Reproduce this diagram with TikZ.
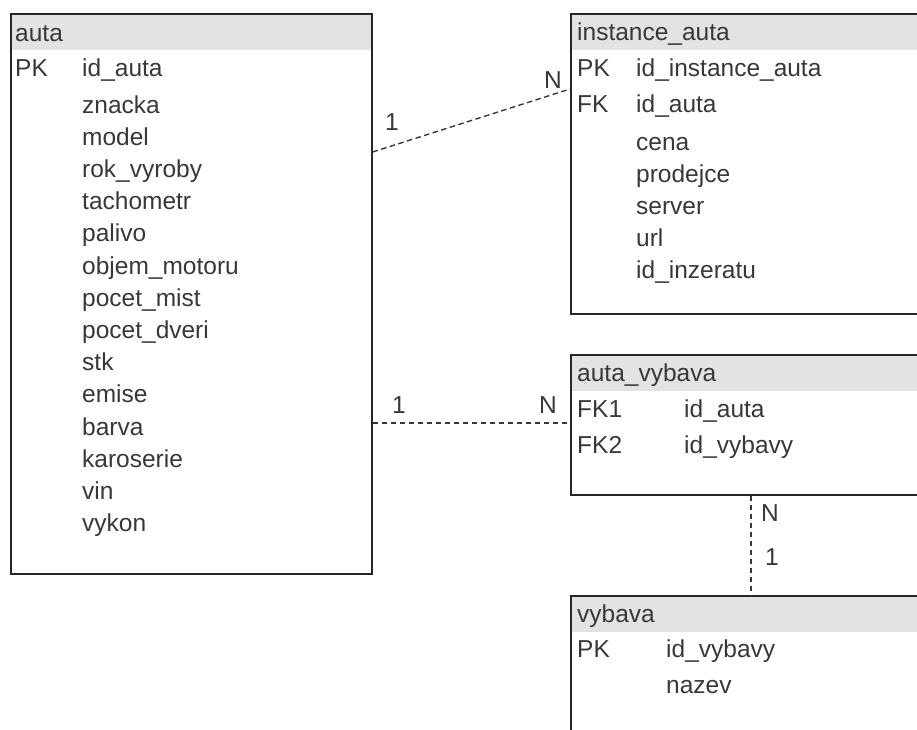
\documentclass[tikz,border=0pt]{standalone}
\usepackage{fontspec}
\setmainfont{Liberation Sans}
\usepackage{xcolor}
\usetikzlibrary{positioning}
\definecolor{headgray}{HTML}{E3E3E3}
\definecolor{inkgray}{HTML}{383838}

\begin{document}
\begin{tikzpicture}[x=1pt,y=-1pt,
  table/.style={rectangle,draw=black!85,line width=1.6pt,anchor=north west,inner sep=0pt},
  head/.style={rectangle,fill=headgray,anchor=north west,inner sep=0pt,minimum height=37pt},
  field/.style={anchor=base west,inner sep=0pt,text=inkgray,font=\fontsize{24.5}{28}\selectfont},
  card/.style={inner sep=0pt,text=inkgray,font=\fontsize{24.5}{28}\selectfont},
  rel/.style={line width=1.4pt,draw=inkgray,dash pattern=on 5.5pt off 3.5pt}
]
\useasboundingbox (0,0) rectangle (917,729);
\clip (0,0) rectangle (917,729);

% header bands
\node[head,minimum width=361pt] (autaH) at (10,13) {};
\node[head,minimum width=400pt] (instH) at (570,13) {};
\node[head,minimum width=400pt] (avbH)  at (570,354) {};
\node[head,minimum width=400pt] (vybH)  at (570,595) {};

% tables
\node[table,minimum width=361pt,minimum height=560pt] (auta) at (10,13) {};
\node[table,minimum width=400pt,minimum height=300pt] (inst) at (570,13) {};
\node[table,minimum width=400pt,minimum height=140pt] (avb)  at (570,354) {};
\node[table,minimum width=400pt,minimum height=200pt] (vyb)  at (570,595) {};

% auta
\node[field] (autaT)  at (15,41)    {auta};
\node[field] (autaK)  at (15,76)    {PK};
\node[field] (autaF0) at (82,76)    {id\_auta};
\node[field] (autaF1) at (82,113)   {znacka};
\node[field] (autaF2) at (82,145.2) {model};
\node[field] (autaF3) at (82,177.4) {rok\_vyroby};
\node[field] (autaF4) at (82,209.6) {tachometr};
\node[field] (autaF5) at (82,241.8) {palivo};
\node[field] (autaF6) at (82,274)   {objem\_motoru};
\node[field] (autaF7) at (82,306.2) {pocet\_mist};
\node[field] (autaF8) at (82,338.4) {pocet\_dveri};
\node[field] (autaF9) at (82,370.6) {stk};
\node[field] (autaFa) at (82,402.8) {emise};
\node[field] (autaFb) at (82,435)   {barva};
\node[field] (autaFc) at (82,467.2) {karoserie};
\node[field] (autaFd) at (82,499.4) {vin};
\node[field] (autaFe) at (82,531.6) {vykon};

% instance_auta
\node[field] (instT)  at (577,40)  {instance\_auta};
\node[field] (instK1) at (577,76)  {PK};
\node[field] (instK2) at (577,112) {FK};
\node[field] (instF0) at (636,76)  {id\_instance\_auta};
\node[field] (instF1) at (636,112) {id\_auta};
\node[field] (instF2) at (636,150) {cena};
\node[field] (instF3) at (636,182) {prodejce};
\node[field] (instF4) at (636,214) {server};
\node[field] (instF5) at (636,246) {url};
\node[field] (instF6) at (636,278) {id\_inzeratu};

% auta_vybava
\node[field] (avbT)  at (577,381) {auta\_vybava};
\node[field] (avbK1) at (577,417) {FK1};
\node[field] (avbK2) at (577,453) {FK2};
\node[field] (avbF1) at (684,417) {id\_auta};
\node[field] (avbF2) at (684,453) {id\_vybavy};

% vybava
\node[field] (vybT)  at (577,622) {vybava};
\node[field] (vybK)  at (577,657) {PK};
\node[field] (vybF1) at (666,657) {id\_vybavy};
\node[field] (vybF2) at (666,693) {nazev};

% relations
\draw[rel] ([yshift=-139pt]auta.north east) -- ([yshift=-76pt]inst.north west);
\draw[rel] ([yshift=-410pt]auta.north east) -- ([yshift=-69pt]avb.north west);
\draw[rel] ([xshift=181pt]avb.south west) -- ([xshift=181pt]vyb.north west);

\node[card] (c1a) at (392,122) {1};
\node[card] (c1b) at (553,80)  {N};
\node[card] (c2a) at (399,405) {1};
\node[card] (c2b) at (548,405) {N};
\node[card] (c3a) at (770,513) {N};
\node[card] (c3b) at (772,557) {1};
\end{tikzpicture}
\end{document}
